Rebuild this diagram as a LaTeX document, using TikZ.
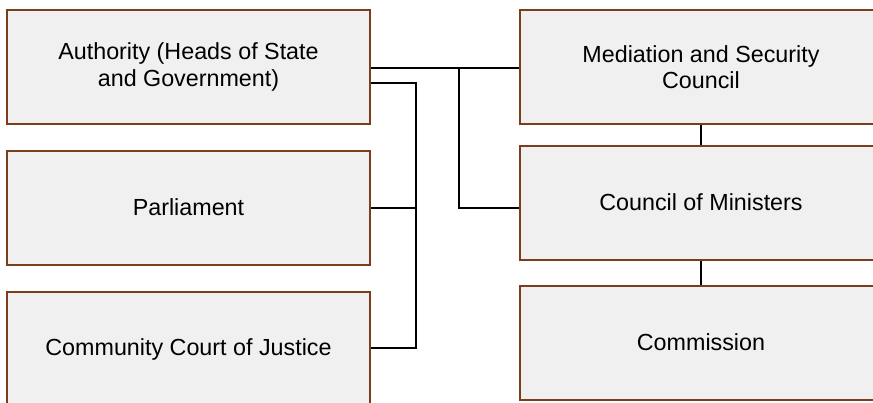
\documentclass[tikz,border=0pt]{standalone}
\usepackage{fontspec}
\setmainfont{Liberation Sans}
\definecolor{boxfill}{HTML}{F0F0F0}
\definecolor{boxline}{HTML}{7A3E1E}
\begin{document}
\begin{tikzpicture}[x=1pt,y=-1pt,
  orgbox/.style={draw=boxline,line width=2pt,fill=boxfill,minimum width=363pt,minimum height=114pt,align=center,font=\fontsize{23.3}{26.5}\selectfont,inner sep=0pt},
  conn/.style={draw=black,line width=1.5pt}]
\useasboundingbox (0,0) rectangle (873,402);
\clip (0,0) rectangle (873,402);
\node[orgbox] (auth) at (188.5,67) {Authority (Heads of State\\and Government)};
\node[orgbox] (parl) at (188.5,207.5) {Parliament};
\node[orgbox] (ccj) at (188.5,349) {Community Court of Justice};
\node[orgbox] (msc) at (701,67) {Mediation and Security\\Council};
\node[orgbox] (com) at (701,202.5) {Council of Ministers};
\node[orgbox] (cmn) at (701,342.5) {Commission};
\coordinate (j1) at (459,68);
\coordinate (j2) at (416,83);
\draw[conn,line width=2pt] (auth.east |- j1) -- (msc.west |- j1);
\draw[conn] (j1) |- (com.west |- 0,208);
\draw[conn] (auth.east |- j2) -| (j2) |- (ccj.east |- 0,348);
\draw[conn] (parl.east |- 0,208) -- (j2 |- 0,208);
\draw[conn] (msc.south) -- (com.north);
\draw[conn] (com.south) -- (cmn.north);
\end{tikzpicture}
\end{document}
